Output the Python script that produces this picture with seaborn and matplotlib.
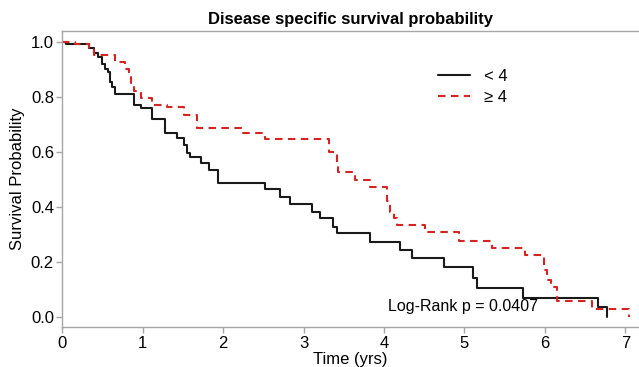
import numpy as np
import pandas as pd
import matplotlib
matplotlib.use("Agg")
import matplotlib.pyplot as plt
import seaborn as sns

# step curves (time in years, survival from that time on)
low_time = [0, 0.05, 0.33, 0.40, 0.45, 0.49, 0.53, 0.57, 0.59, 0.62, 0.65, 0.89, 0.98,
            1.12, 1.28, 1.43, 1.51, 1.55, 1.59, 1.72, 1.82, 1.94, 2.52, 2.71, 2.83,
            3.10, 3.21, 3.37, 3.41, 3.83, 4.20, 4.35, 4.74, 5.11, 5.16, 5.73, 6.66, 6.77]
low_surv = [1.0, 0.99, 0.976, 0.96, 0.945, 0.92, 0.90, 0.89, 0.855, 0.836, 0.81, 0.77, 0.758,
            0.718, 0.667, 0.649, 0.624, 0.594, 0.58, 0.558, 0.533, 0.487, 0.463, 0.436, 0.41,
            0.382, 0.358, 0.327, 0.303, 0.273, 0.243, 0.215, 0.18, 0.14, 0.105, 0.07, 0.036, 0.0]

high_time = [0, 0.16, 0.33, 0.40, 0.66, 0.78, 0.83, 0.86, 0.89, 0.98, 1.11, 1.30, 1.51,
             1.67, 2.25, 2.52, 3.31, 3.41, 3.43, 3.64, 3.83, 4.04, 4.08, 4.13, 4.16,
             4.51, 4.93, 5.34, 5.75, 5.99, 6.03, 6.07, 6.15, 6.59, 7.04]
high_surv = [1.0, 0.99, 0.976, 0.952, 0.927, 0.90, 0.87, 0.85, 0.82, 0.794, 0.77, 0.761, 0.733,
             0.685, 0.669, 0.646, 0.598, 0.56, 0.527, 0.497, 0.473, 0.42, 0.38, 0.36, 0.333,
             0.307, 0.276, 0.251, 0.224, 0.169, 0.133, 0.109, 0.058, 0.03, 0.0]

groups = ["< 4", "\u2265 4"]

df = pd.concat([
    pd.DataFrame({"time": low_time, "surv": low_surv, "group": groups[0]}),
    pd.DataFrame({"time": high_time, "surv": high_surv, "group": groups[1]}),
])

sns.set_theme(style="white")
plt.rcParams["font.family"] = ["Liberation Sans", "DejaVu Sans"]
plt.rcParams["text.color"] = "black"
plt.rcParams["axes.labelcolor"] = "black"

fig = plt.figure(figsize=(6.39, 3.67), dpi=100)
ax = fig.add_axes([0.0975, 0.108, 0.9025, 0.8075])

sns.lineplot(data=df, x="time", y="surv", hue="group", style="group",
             palette={groups[0]: "#1a1a1a", groups[1]: "#d42424"},
             dashes={groups[0]: "", groups[1]: (3.6, 2.6)},
             estimator=None, sort=False, drawstyle="steps-post",
             linewidth=1.5, ax=ax)

ax.set_xlim(0, 7.17)
ax.set_ylim(-0.0385, 1.039)
ax.set_xticks(range(0, 8))
ax.set_yticks([0, 0.2, 0.4, 0.6, 0.8, 1.0])
ax.set_yticklabels(["0.0", "0.2", "0.4", "0.6", "0.8", "1.0"])

for s in ["left", "bottom", "top"]:
    ax.spines[s].set_color("#a6a6a6")
    ax.spines[s].set_linewidth(1.0)
ax.spines["right"].set_visible(False)
ax.tick_params(axis="both", direction="out", length=4, width=1, color="#a6a6a6",
               labelsize=12, labelcolor="black", pad=2, left=True, bottom=True)

ax.set_title("Disease specific survival probability", fontsize=12, fontweight="bold",
             pad=5, color="black")
ax.set_xlabel("Time (yrs)", fontsize=12, labelpad=1)
ax.set_ylabel("Survival Probability", fontsize=12, labelpad=4)

ax.text(5.92, 0.01, "Log-Rank p = 0.0407", fontsize=11.5, ha="right", va="bottom")

ax.legend(loc="upper left", bbox_to_anchor=(0.651, 0.872), frameon=False,
          fontsize=12, handlelength=1.95, handletextpad=0.85, labelspacing=0.36,
          borderpad=0, borderaxespad=0)

fig.savefig("out.png", dpi=100)
